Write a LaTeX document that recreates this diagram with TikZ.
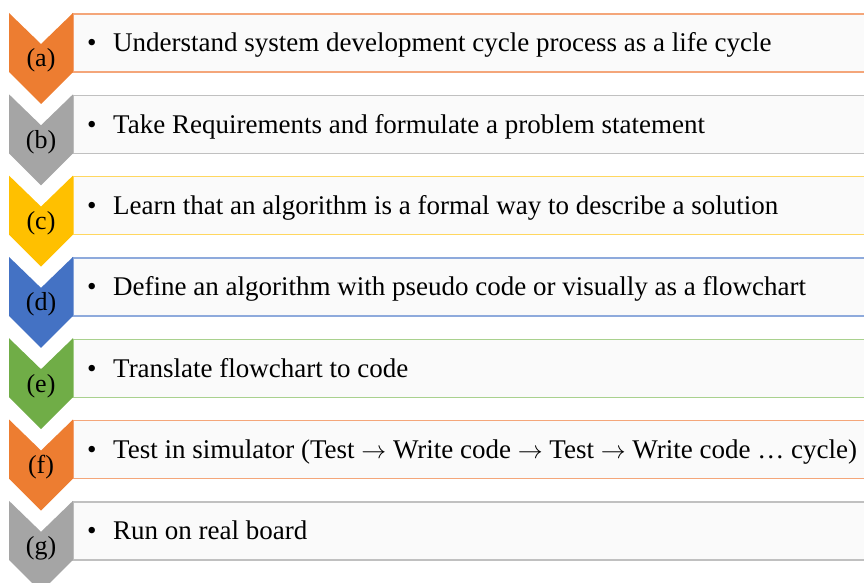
\documentclass[tikz,border=0pt]{standalone}
\usepackage{fontspec}
\setmainfont{Liberation Serif}
\newcommand{\arr}{\ensuremath{\rightarrow}}
\begin{document}
\begin{tikzpicture}[x=1pt,y=-1pt,
  chev/.style={fill=#1,draw=none},
  rowbox/.style={fill=boxfill,draw=#1,line width=1.4pt},
  steplabel/.style={anchor=base,inner sep=0pt,font=\fontsize{26}{30}\selectfont},
  itemtext/.style={anchor=base west,inner sep=0pt,font=\fontsize{27}{32}\selectfont},
]
\definecolor{boxfill}{HTML}{FAFAFA}
\definecolor{corange}{HTML}{ED7D31}\definecolor{lorange}{HTML}{F4A67A}
\definecolor{cgray}{HTML}{A5A5A5}\definecolor{lgray}{HTML}{C0C0C0}
\definecolor{cgold}{HTML}{FFC000}\definecolor{lgold}{HTML}{FFD760}
\definecolor{cblue}{HTML}{4472C4}\definecolor{lblue}{HTML}{8EAADC}
\definecolor{cgreen}{HTML}{70AD47}\definecolor{lgreen}{HTML}{A9D18E}
\useasboundingbox (0,0) rectangle (864,583);
\clip (0,0) rectangle (864,583);
\foreach \i/\t/\c/\l/\lab/\txt in {
  0/13/corange/lorange/a/{Understand system development cycle process as a life cycle},
  1/94.3/cgray/lgray/b/{Take Requirements and formulate a problem statement},
  2/175.6/cgold/lgold/c/{Learn that an algorithm is a formal way to describe a solution},
  3/256.9/cblue/lblue/d/{Define an algorithm with pseudo code or visually as a flowchart},
  4/338.2/cgreen/lgreen/e/{Translate flowchart to code},
  5/419.5/corange/lorange/f/{Test in simulator (Test \arr{} Write code \arr{} Test \arr{} Write code … cycle)},
  6/500.8/cgray/lgray/g/{Run on real board}}{
  % text panel of the step
  \draw[rowbox=\l] (73,\t+1) rectangle (880,\t+59);
  % chevron marker of the step
  \fill[chev=\c] (9,\t) -- (41,\t+31) -- (73,\t) -- (73,\t+59) -- (41,\t+91) -- (9,\t+59) -- cycle;
  \node[steplabel] (lab\i) at (41,\t+54) {(\lab)};
  \node[itemtext] (bul\i) at (87,\t+39) {•};
  \node[itemtext] (txt\i) at (113,\t+39) {\txt};
}
\end{tikzpicture}
\end{document}
